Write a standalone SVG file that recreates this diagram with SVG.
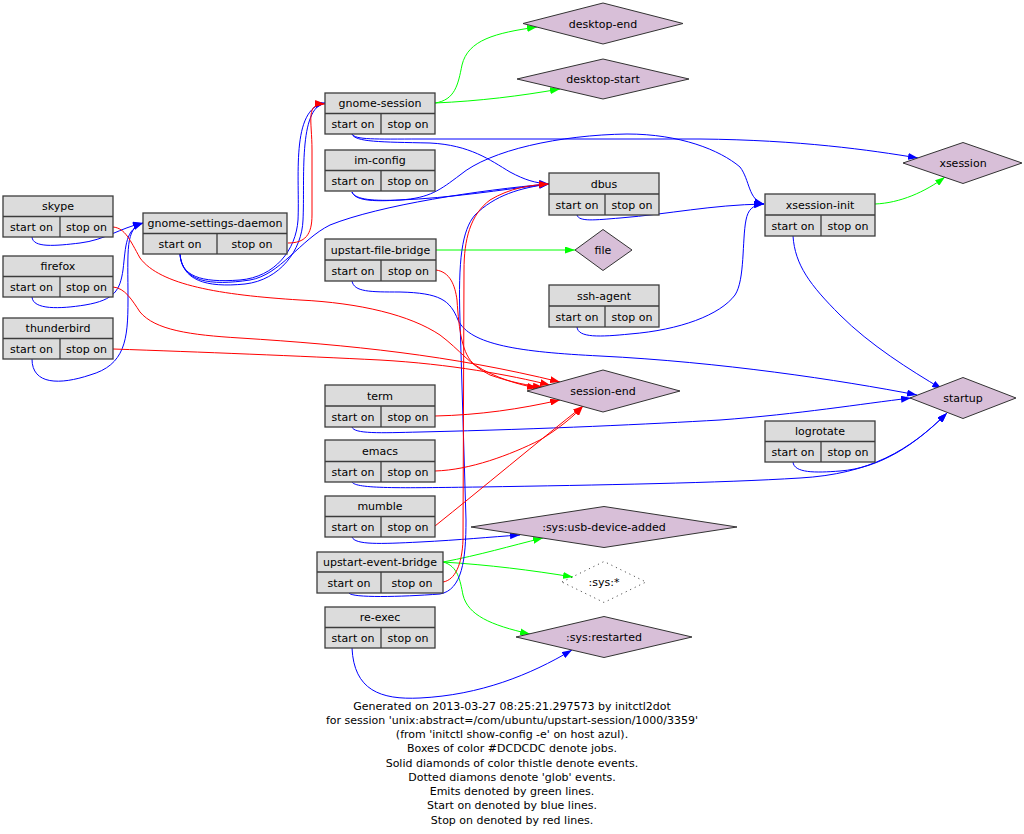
<svg xmlns="http://www.w3.org/2000/svg" width="1024" height="834" viewBox="0 0 1024 834">
<style>
text{font-family:"DejaVu Sans","Liberation Sans",sans-serif;font-size:11px;fill:#000;text-anchor:middle}
.box rect{fill:#DCDCDC;stroke:#3c3c3c;stroke-width:1.3}
.box line{stroke:#3c3c3c;stroke-width:1.3}
.ev polygon{fill:#D8BFD8;stroke:#333;stroke-width:1}
.glob polygon{fill:none;stroke:#333;stroke-width:1;stroke-dasharray:1 4}
#edges path{fill:none;stroke-width:1}
.b{stroke:#0000FF}
.r{stroke:#FF0000}
.g{stroke:#00FF00}
</style>
<defs>
<marker id="mb" viewBox="0 0 10 7" refX="10" refY="3.5" markerWidth="10" markerHeight="7" markerUnits="userSpaceOnUse" orient="auto"><path d="M0,0L10,3.5L0,7z" fill="#0000FF"/></marker>
<marker id="mr" viewBox="0 0 10 7" refX="10" refY="3.5" markerWidth="10" markerHeight="7" markerUnits="userSpaceOnUse" orient="auto"><path d="M0,0L10,3.5L0,7z" fill="#FF0000"/></marker>
<marker id="mg" viewBox="0 0 10 7" refX="10" refY="3.5" markerWidth="10" markerHeight="7" markerUnits="userSpaceOnUse" orient="auto"><path d="M0,0L10,3.5L0,7z" fill="#00FF00"/></marker>
</defs>
<rect width="1024" height="834" fill="#fff"/>

<g id="edges">
<!-- green: emits -->
<path class="g" marker-end="url(#mg)" d="M435,103 C455,100 458,85 462,65 C468,40 495,33 537,27"/>
<path class="g" marker-end="url(#mg)" d="M435,103 C480,101 520,96 560,89"/>
<path class="g" marker-end="url(#mg)" d="M875,204 C900,203 925,192 945,177"/>
<path class="g" marker-end="url(#mg)" d="M436,250 L575,250"/>
<path class="g" marker-end="url(#mg)" d="M443,562 C480,555 510,546 543,538"/>
<path class="g" marker-end="url(#mg)" d="M443,562 C490,565 530,570 573,577"/>
<path class="g" marker-end="url(#mg)" d="M443,562 C458,566 460,580 463,595 C468,615 490,625 530,634"/>
<!-- blue: start on -->
<path class="b" marker-end="url(#mb)" d="M32,237 C33,248 55,246 80,243 C105,240 120,228 143,223"/>
<path class="b" marker-end="url(#mb)" d="M32,297 C33,310 60,309 85,305 C115,300 120,290 123,270 C126,245 125,230 143,223"/>
<path class="b" marker-end="url(#mb)" d="M32,359 C32,385 60,385 90,375 C125,365 128,340 128,300 C128,250 125,228 143,223"/>
<path class="b" marker-end="url(#mb)" d="M180,254 C181,276 200,283 240,280 C275,277 296,250 298,220 C300,180 290,108 325,103"/>
<path class="b" marker-end="url(#mb)" d="M180,254 C182,280 205,288 245,284 C280,280 302,250 303,220 C305,180 298,108 325,103"/>
<path class="b" marker-end="url(#mb)" d="M180,254 C182,282 210,286 250,280 C280,275 300,240 330,225 C380,205 480,190 549,184"/>
<path class="b" marker-end="url(#mb)" d="M352,134 C355,142 380,142 430,143 C470,145 490,160 510,172 C525,180 535,183 549,184"/>
<path class="b" marker-end="url(#mb)" d="M352,134 C355,140 375,139 420,139 L700,139 C800,140 870,150 918,158"/>
<path class="b" marker-end="url(#mb)" d="M352,192 C355,200 375,201 400,200 C450,198 500,190 549,184"/>
<path class="b" marker-end="url(#mb)" d="M352,192 C355,200 370,202 400,200 C430,198 440,190 460,175 C490,150 560,135 627,134 C680,134 720,150 740,167 C750,180 748,200 764,204"/>
<path class="b" marker-end="url(#mb)" d="M577,215 C579,222 595,220 620,218 C670,214 710,205 764,204"/>
<path class="b" marker-end="url(#mb)" d="M577,327 C578,338 600,337 630,334 C680,330 720,315 735,295 C745,280 742,240 746,220 C748,210 752,205 764,204"/>
<path class="b" marker-end="url(#mb)" d="M793,236 C795,265 810,285 840,315 C870,345 910,370 942,389"/>
<path class="b" marker-end="url(#mb)" d="M352,281 C354,292 370,292 400,292 C440,293 450,300 458,320 C470,345 520,352 600,356 C720,362 840,380 917,395"/>
<path class="b" marker-end="url(#mb)" d="M352,427 C354,434 380,433 420,432 C550,429 650,424 720,420 C800,414 860,404 911,398"/>
<path class="b" marker-end="url(#mb)" d="M352,482 C356,489 400,488 480,487 C600,485 720,483 800,478 C870,474 910,450 947,413"/>
<path class="b" marker-end="url(#mb)" d="M793,462 C794,473 815,473 840,471 C880,468 915,445 947,413"/>
<path class="b" marker-end="url(#mb)" d="M352,537 C355,545 380,544 420,542 C460,540 490,537 520,535"/>
<path class="b" marker-end="url(#mb)" d="M349,593 C352,598 400,597 440,594 C462,590 466,560 466,520 L460,320 C458,260 462,230 475,215 C495,195 520,188 549,184"/>
<path class="b" marker-end="url(#mb)" d="M352,648 C354,690 380,700 420,698 C480,695 530,675 572,650"/>
<!-- red: stop on -->
<path class="r" marker-end="url(#mr)" d="M288,243 C305,243 312,235 312,215 L312,150 C312,120 305,103 325,104"/>
<path class="r" marker-end="url(#mr)" d="M443,582 C455,580 462,565 463,540 L464,270 C464,240 470,215 490,200 C510,188 530,185 549,184"/>
<path class="r" marker-end="url(#mr)" d="M113,227 C125,228 130,240 140,258 C160,285 220,295 300,300 C360,303 410,315 440,335 C460,350 470,365 490,375 C510,382 530,386 543,387"/>
<path class="r" marker-end="url(#mr)" d="M113,287 C125,288 132,300 140,312 C155,330 190,335 240,338 C350,345 450,355 560,382"/>
<path class="r" marker-end="url(#mr)" d="M113,349 C200,352 300,356 380,360 C450,364 510,375 550,385"/>
<path class="r" marker-end="url(#mr)" d="M436,270 C450,272 455,285 457,300 C459,330 462,355 475,365 C495,378 520,385 537,388"/>
<path class="r" marker-end="url(#mr)" d="M435,416 C480,415 520,409 560,400"/>
<path class="r" marker-end="url(#mr)" d="M435,471 C470,470 510,455 540,440 C560,428 575,415 583,406"/>
<path class="r" marker-end="url(#mr)" d="M435,526 C480,490 540,440 583,406"/>
</g>

<!-- jobs -->
<g id="skype" class="box"><rect x="3" y="196" width="110" height="41"/><line x1="3" y1="216.5" x2="113" y2="216.5"/><line x1="60" y1="216.5" x2="60" y2="237"/><text x="58" y="210">skype</text><text x="31.5" y="231">start on</text><text x="86.5" y="231">stop on</text></g>
<g id="firefox" class="box"><rect x="3" y="256" width="110" height="41"/><line x1="3" y1="276.5" x2="113" y2="276.5"/><line x1="60" y1="276.5" x2="60" y2="297"/><text x="58" y="270">firefox</text><text x="31.5" y="291">start on</text><text x="86.5" y="291">stop on</text></g>
<g id="thunderbird" class="box"><rect x="3" y="318" width="110" height="41"/><line x1="3" y1="338.5" x2="113" y2="338.5"/><line x1="60" y1="338.5" x2="60" y2="359"/><text x="58" y="332">thunderbird</text><text x="31.5" y="353">start on</text><text x="86.5" y="353">stop on</text></g>
<g id="gnome-settings-daemon" class="box"><rect x="143" y="213" width="144" height="41"/><line x1="143" y1="233.5" x2="287" y2="233.5"/><line x1="217" y1="233.5" x2="217" y2="254"/><text x="215" y="227">gnome-settings-daemon</text><text x="180" y="248">start on</text><text x="252" y="248">stop on</text></g>
<g id="gnome-session" class="box"><rect x="325" y="93" width="110" height="41"/><line x1="325" y1="113.5" x2="435" y2="113.5"/><line x1="381" y1="113.5" x2="381" y2="134"/><text x="380" y="107">gnome-session</text><text x="353" y="128">start on</text><text x="408" y="128">stop on</text></g>
<g id="im-config" class="box"><rect x="325" y="150" width="110" height="41"/><line x1="325" y1="170.5" x2="435" y2="170.5"/><line x1="381" y1="170.5" x2="381" y2="191"/><text x="380" y="164">im-config</text><text x="353" y="185">start on</text><text x="408" y="185">stop on</text></g>
<g id="dbus" class="box"><rect x="549" y="173" width="110" height="42"/><line x1="549" y1="194" x2="659" y2="194"/><line x1="605" y1="194" x2="605" y2="215"/><text x="604" y="188">dbus</text><text x="577" y="209">start on</text><text x="632" y="209">stop on</text></g>
<g id="upstart-file-bridge" class="box"><rect x="325" y="239" width="111" height="42"/><line x1="325" y1="260" x2="436" y2="260"/><line x1="381" y1="260" x2="381" y2="281"/><text x="380.5" y="254">upstart-file-bridge</text><text x="353" y="275">start on</text><text x="408.5" y="275">stop on</text></g>
<g id="ssh-agent" class="box"><rect x="549" y="285" width="110" height="42"/><line x1="549" y1="306" x2="659" y2="306"/><line x1="605" y1="306" x2="605" y2="327"/><text x="604" y="300">ssh-agent</text><text x="577" y="321">start on</text><text x="632" y="321">stop on</text></g>
<g id="term" class="box"><rect x="325" y="385" width="110" height="42"/><line x1="325" y1="406" x2="435" y2="406"/><line x1="381" y1="406" x2="381" y2="427"/><text x="380" y="400">term</text><text x="353" y="421">start on</text><text x="408" y="421">stop on</text></g>
<g id="emacs" class="box"><rect x="325" y="440" width="110" height="42"/><line x1="325" y1="461.5" x2="435" y2="461.5"/><line x1="381" y1="461.5" x2="381" y2="482"/><text x="380" y="455">emacs</text><text x="353" y="476">start on</text><text x="408" y="476">stop on</text></g>
<g id="mumble" class="box"><rect x="325" y="496" width="110" height="41"/><line x1="325" y1="516.5" x2="435" y2="516.5"/><line x1="381" y1="516.5" x2="381" y2="537"/><text x="380" y="510">mumble</text><text x="353" y="531">start on</text><text x="408" y="531">stop on</text></g>
<g id="upstart-event-bridge" class="box"><rect x="317" y="552" width="126" height="41"/><line x1="317" y1="572" x2="443" y2="572"/><line x1="381" y1="572" x2="381" y2="593"/><text x="380" y="566">upstart-event-bridge</text><text x="349" y="587">start on</text><text x="412" y="587">stop on</text></g>
<g id="re-exec" class="box"><rect x="325" y="607" width="110" height="41"/><line x1="325" y1="627.5" x2="435" y2="627.5"/><line x1="381" y1="627.5" x2="381" y2="648"/><text x="380" y="621">re-exec</text><text x="353" y="642">start on</text><text x="408" y="642">stop on</text></g>
<g id="xsession-init" class="box"><rect x="765" y="194" width="110" height="42"/><line x1="765" y1="215" x2="875" y2="215"/><line x1="821" y1="215" x2="821" y2="236"/><text x="820" y="209">xsession-init</text><text x="793" y="230">start on</text><text x="848" y="230">stop on</text></g>
<g id="logrotate" class="box"><rect x="765" y="421" width="110" height="41"/><line x1="765" y1="441.5" x2="875" y2="441.5"/><line x1="821" y1="441.5" x2="821" y2="462"/><text x="820" y="435">logrotate</text><text x="793" y="456">start on</text><text x="848" y="456">stop on</text></g>

<!-- events -->
<g id="desktop-end" class="ev"><polygon points="523,23.5 603,3 683,23.5 603,44"/><text x="603" y="27.5">desktop-end</text></g>
<g id="desktop-start" class="ev"><polygon points="517,79 603,59 689,79 603,99"/><text x="603" y="83">desktop-start</text></g>
<g id="xsession" class="ev"><polygon points="903,163 963,142.5 1022,163 963,183.5"/><text x="963" y="167">xsession</text></g>
<g id="file" class="ev"><polygon points="575,250 603,229.5 632,250 603,270.5"/><text x="603" y="254">file</text></g>
<g id="session-end" class="ev"><polygon points="527,391 603,370 680,391 603,412"/><text x="603" y="395">session-end</text></g>
<g id="startup" class="ev"><polygon points="910,398 963,377.5 1016,398 963,418.5"/><text x="963" y="402">startup</text></g>
<g id="sys-usb-device-added" class="ev"><polygon points="471,527 604,506.5 737,527 604,547.5"/><text x="604" y="531">:sys:usb-device-added</text></g>
<g id="sys-glob" class="glob"><polygon points="562,582 604,561.5 646,582 604,602.5"/><text x="604" y="586">:sys:*</text></g>
<g id="sys-restarted" class="ev"><polygon points="516,637 604,616.5 692,637 604,657.5"/><text x="604" y="641">:sys:restarted</text></g>

<g id="legend">
<text x="512" y="709.5">Generated on 2013-03-27 08:25:21.297573 by initctl2dot</text>
<text x="512" y="723.7">for session 'unix:abstract=/com/ubuntu/upstart-session/1000/3359'</text>
<text x="512" y="738">(from 'initctl show-config -e' on host azul).</text>
<text x="512" y="752.2">Boxes of color #DCDCDC denote jobs.</text>
<text x="512" y="766.5">Solid diamonds of color thistle denote events.</text>
<text x="512" y="780.7">Dotted diamons denote 'glob' events.</text>
<text x="512" y="795">Emits denoted by green lines.</text>
<text x="512" y="809.2">Start on denoted by blue lines.</text>
<text x="512" y="823.5">Stop on denoted by red lines.</text>
</g>
</svg>
